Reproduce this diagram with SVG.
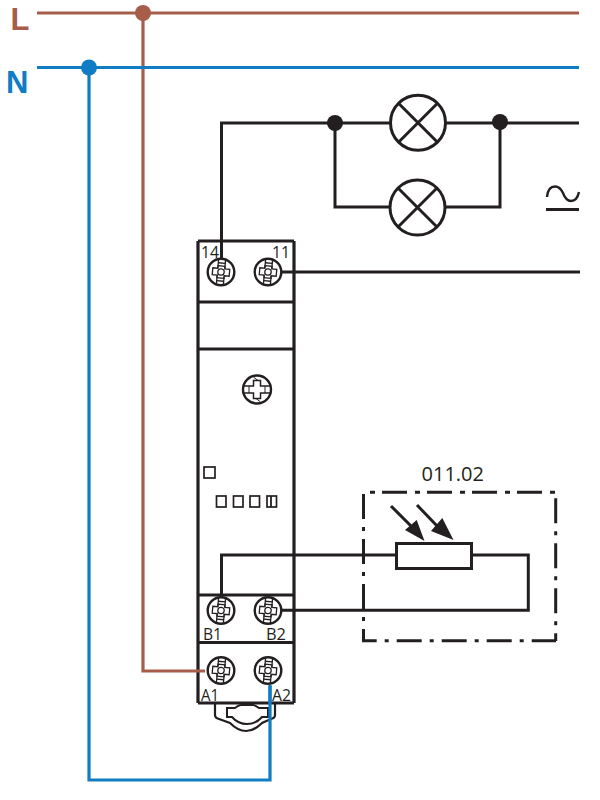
<svg xmlns="http://www.w3.org/2000/svg" width="600" height="800" viewBox="0 0 600 800">
<style>
.w{fill:none;stroke:#231f20;stroke-width:3;stroke-linejoin:miter}
.br{fill:none;stroke:#a65e4a;stroke-width:3.2}
.bl{fill:none;stroke:#0f7cc4;stroke-width:3.2}
.thin{fill:none;stroke:#231f20;stroke-width:1.8}
.t{font-family:"Open Sans","Noto Sans",sans-serif;fill:#231f20;font-size:16.5px}
.h{font-family:"Liberation Sans",Arial,sans-serif;font-weight:700;font-size:31px}
.lamp{fill:#fff;stroke:#231f20;stroke-width:3}
.sq{fill:#fff;stroke:#231f20;stroke-width:1.7}
.dash{fill:none;stroke:#231f20;stroke-width:3;stroke-dasharray:25 8 4 8}
</style>
<defs>
<g id="screw">
<circle r="13.300" fill="#fff" stroke="#231f20" stroke-width="2.400"/>
<g fill="none" stroke="#231f20" stroke-width="1.300" transform="rotate(5)">
<path d="M-3.500 -12.500V-3.500M3.500 -12.500V-3.500M-3.500 12.500V3.500M3.500 12.500V3.500"/>
<path d="M-3.500 -9H3.500M-3.500 9H3.500"/>
<path d="M-3.500 -6H3.500V-3.500H8.500V3.500H3.500V6H-3.500V3.500H-8.500V-3.500H-3.500Z"/>
<circle r="3.200"/>
</g>
</g>
<g id="screw-h">
<circle r="14" fill="#fff" stroke="#231f20" stroke-width="2.400"/>
<g fill="none" stroke="#231f20" stroke-width="1.500">
<path d="M-13 -3.500H-3.500V-9H3.500V-3.500H13M-13 3.500H-3.500V9H3.500V3.500H13"/>
<path d="M-8 -3.500V3.500M8 -3.500V3.500M-3 -12L1 -9M3 12L-1 9" stroke-width="1"/>
</g>
</g>
<g id="x">
<circle r="27.500" class="lamp"/>
<path d="M-19.500 -19.500L19.500 19.500M-19.500 19.500L19.500 -19.500" class="w"/>
</g>
</defs>
<g id="device">
<path d="M198 241H294M198 302H294M198 349H294M198 595H294M198 642.500H294M198 703H294" class="w"/>
<path d="M198 241V703M294 241V703" fill="none" stroke="#231f20" stroke-width="3.200"/>
</g>
<g id="din-clip">
<path d="M215 703V715Q215 718 219 719L230 723Q238 731 246 731Q254 731 262 723L271 719Q275 718 275 715V703" fill="none" stroke="#231f20" stroke-width="2.200"/>
<path d="M235 708H227V717H232Q238 724 247 724Q256 724 262 717H268V708H259Q255 705 253 705H241Q239 705 235 708Z" fill="none" stroke="#231f20" stroke-width="2"/>
</g>
<g id="connectors">
<path d="M37 13H579M143 13V671H205" class="br"/>
<path d="M37 67.500H579M89 67.500V780H270V686" class="bl"/>
<circle cx="143" cy="13" r="8" fill="#a65e4a"/>
<circle cx="89" cy="67.500" r="8" fill="#0f7cc4"/>
<path d="M221.500 262V123H579M335 123V207H500V122" class="w"/>
<path d="M282 272H580" class="w"/>
<path d="M221.500 597V555H396M471 555H528.300V610.300H282" class="w"/>
<circle cx="335" cy="123" r="8" fill="#231f20"/>
<circle cx="500" cy="122" r="8" fill="#231f20"/>
</g>
<g id="lamp-1" transform="translate(418 122.700)"><use href="#x"/></g>
<g id="lamp-2" transform="translate(417.500 207.500)"><use href="#x"/></g>
<g id="ac-symbol">
<path d="M547 197Q548 186.500 555 186.500Q560 186.500 563 193Q566 201 571 201Q577 201 579 192" fill="none" stroke="#231f20" stroke-width="2.400"/>
<path d="M546 209.500H579" class="w"/>
</g>
<g id="screw-14"><use href="#screw" x="221" y="272"/></g>
<g id="screw-11"><use href="#screw" x="268" y="272"/></g>
<g id="screw-center"><use href="#screw-h" x="257" y="389.500"/></g>
<g id="screw-b1"><use href="#screw" x="221" y="610.500"/></g>
<g id="screw-b2"><use href="#screw" x="268" y="610.500"/></g>
<g id="screw-a1"><use href="#screw" x="221" y="670.500"/></g>
<g id="screw-a2"><use href="#screw" x="268" y="670.500"/></g>
<path d="M270 685V703" class="bl"/>
<g id="indicators">
<rect x="204" y="467" width="11" height="11" class="sq"/>
<rect x="216.500" y="496" width="9.500" height="11" class="sq"/>
<rect x="233.500" y="496" width="9.500" height="11" class="sq"/>
<rect x="250" y="496" width="9.500" height="11" class="sq"/>
<rect x="267" y="496" width="9.500" height="11" class="sq"/>
<path d="M271 496V507" class="thin"/>
</g>
<g id="labels">
<text x="201" y="258" class="t" textLength="18" lengthAdjust="spacingAndGlyphs">14</text>
<text x="272" y="258" class="t" textLength="18" lengthAdjust="spacingAndGlyphs">11</text>
<text x="203" y="640" class="t" textLength="19" lengthAdjust="spacingAndGlyphs">B1</text>
<text x="266" y="640" class="t" textLength="20" lengthAdjust="spacingAndGlyphs">B2</text>
<text x="201" y="701" class="t" textLength="18" lengthAdjust="spacingAndGlyphs">A1</text>
<text x="272" y="701" class="t" textLength="19" lengthAdjust="spacingAndGlyphs">A2</text>
<text x="10.500" y="30" class="h" fill="#a65e4a">L</text>
<text x="6" y="93" class="h" fill="#0f7cc4">N</text>
<text x="421.500" y="481" font-family="Open Sans,sans-serif" font-size="20.500" fill="#231f20" textLength="62.500" lengthAdjust="spacingAndGlyphs">011.02</text>
</g>
<g id="sensor">
<path d="M370 492.300H556" class="dash" style="stroke-dasharray:5 7 25 8"/>
<path d="M363.500 494V640.800H556" class="dash"/>
<path d="M555.700 498.300V641" class="dash"/>
<rect x="396.500" y="543.500" width="75" height="25" fill="#fff" stroke="#231f20" stroke-width="3"/>
<path d="M391 506L412 527M417 505L438 527" fill="none" stroke="#231f20" stroke-width="3"/>
<path d="M424.500 541L405 530L416.700 520ZM453.500 540L431 531L442.300 518Z" fill="#231f20"/>
</g>
</svg>
